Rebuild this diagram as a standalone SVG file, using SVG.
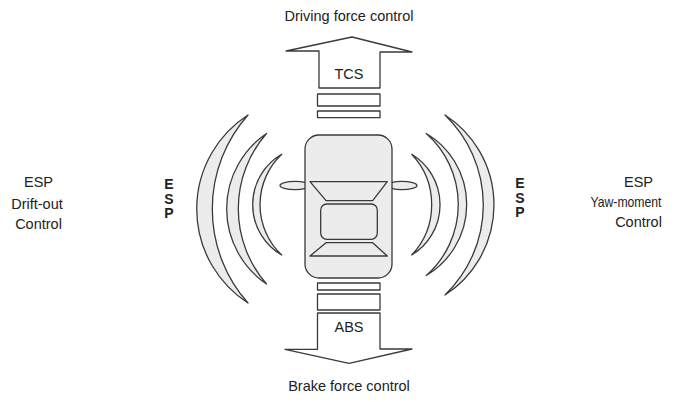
<svg xmlns="http://www.w3.org/2000/svg" width="689" height="402" viewBox="0 0 689 402">
<style>
.ln{stroke:#3a3a3a;stroke-width:1.3;stroke-linejoin:round}
.w{fill:#ffffff}
.g{fill:#ececec}
.t{font-family:"Liberation Sans",Arial,sans-serif;font-size:14.5px;fill:#222;text-anchor:middle}
.b{font-family:"Liberation Sans",Arial,sans-serif;font-size:14px;font-weight:bold;fill:#222;text-anchor:middle}
</style>
<rect width="689" height="402" fill="#ffffff"/>
<g id="top-arrow">
<polygon class="ln w" points="352,37 412,52 380,52 380,88 319,88 319,51 286,51"/>
<text class="t" x="349" y="79">TCS</text>
</g>
<g id="top-bars">
<rect class="ln w" x="317.5" y="94" width="62.5" height="12"/>
<rect class="ln w" x="317.5" y="111" width="62.5" height="6.7"/>
</g>
<g id="bottom-bars">
<rect class="ln w" x="317.5" y="283" width="62.5" height="7"/>
<rect class="ln w" x="317.5" y="294" width="62.5" height="16"/>
</g>
<g id="bottom-arrow">
<polygon class="ln w" points="317.5,313 380,313 380,349 412,349 349,363.3 285,349.3 317.5,349.3"/>
<text class="t" x="349" y="331.5">ABS</text>
</g>
<g id="left-waves">
<path class="ln g" d="M248,115 A111.8,111.8 0 0 0 248,303 A141.6,141.6 0 0 1 248,115 Z"/>
<path class="ln g" d="M266.5,133.5 A91,91 0 0 0 266.5,284 A114.5,114.5 0 0 1 266.5,133.5 Z"/>
<path class="ln g" d="M281.7,154.3 A58.2,58.2 0 0 0 281.7,255 A69.3,69.3 0 0 1 281.7,154.3 Z"/>
</g>
<g id="right-waves">
<path class="ln g" d="M445,115 A107.2,107.2 0 0 1 445,295 A124.9,124.9 0 0 0 445,115 Z"/>
<path class="ln g" d="M426.3,133.5 A82.6,82.6 0 0 1 426.3,275.5 A94.8,94.8 0 0 0 426.3,133.5 Z"/>
<path class="ln g" d="M411.7,154.3 A58.9,58.9 0 0 1 411.7,255 A73.4,73.4 0 0 0 411.7,154.3 Z"/>
</g>
<g id="car">
<ellipse class="ln g" cx="295" cy="185.5" rx="15" ry="4.2"/>
<ellipse class="ln g" cx="402" cy="185.5" rx="15" ry="4.2"/>
<rect class="ln g" x="305" y="135" width="87" height="143" rx="14"/>
<polygon class="ln g" points="310,181.7 387.3,181.7 372.7,200.7 326,200.7"/>
<rect class="ln g" x="320.7" y="204" width="56.6" height="35.3" rx="6"/>
<polygon class="ln g" points="326,242.7 372.7,242.7 387.3,256 310,256"/>
</g>
<g id="labels">
<text class="t" x="349" y="20.5">Driving force control</text>
<text class="t" x="349" y="390.5">Brake force control</text>
<text class="t" x="38.5" y="187">ESP</text>
<text class="t" x="37" y="208.5">Drift-out</text>
<text class="t" x="38.5" y="228.5">Control</text>
<text class="t" x="638.5" y="187">ESP</text>
<text class="t" x="626" y="207" textLength="71" lengthAdjust="spacingAndGlyphs">Yaw-moment</text>
<text class="t" x="638.5" y="227">Control</text>
<text class="b" x="169" y="189">E</text>
<text class="b" x="169" y="203.5">S</text>
<text class="b" x="169" y="218">P</text>
<text class="b" x="520" y="188">E</text>
<text class="b" x="520" y="202.5">S</text>
<text class="b" x="520" y="217">P</text>
</g>
</svg>
